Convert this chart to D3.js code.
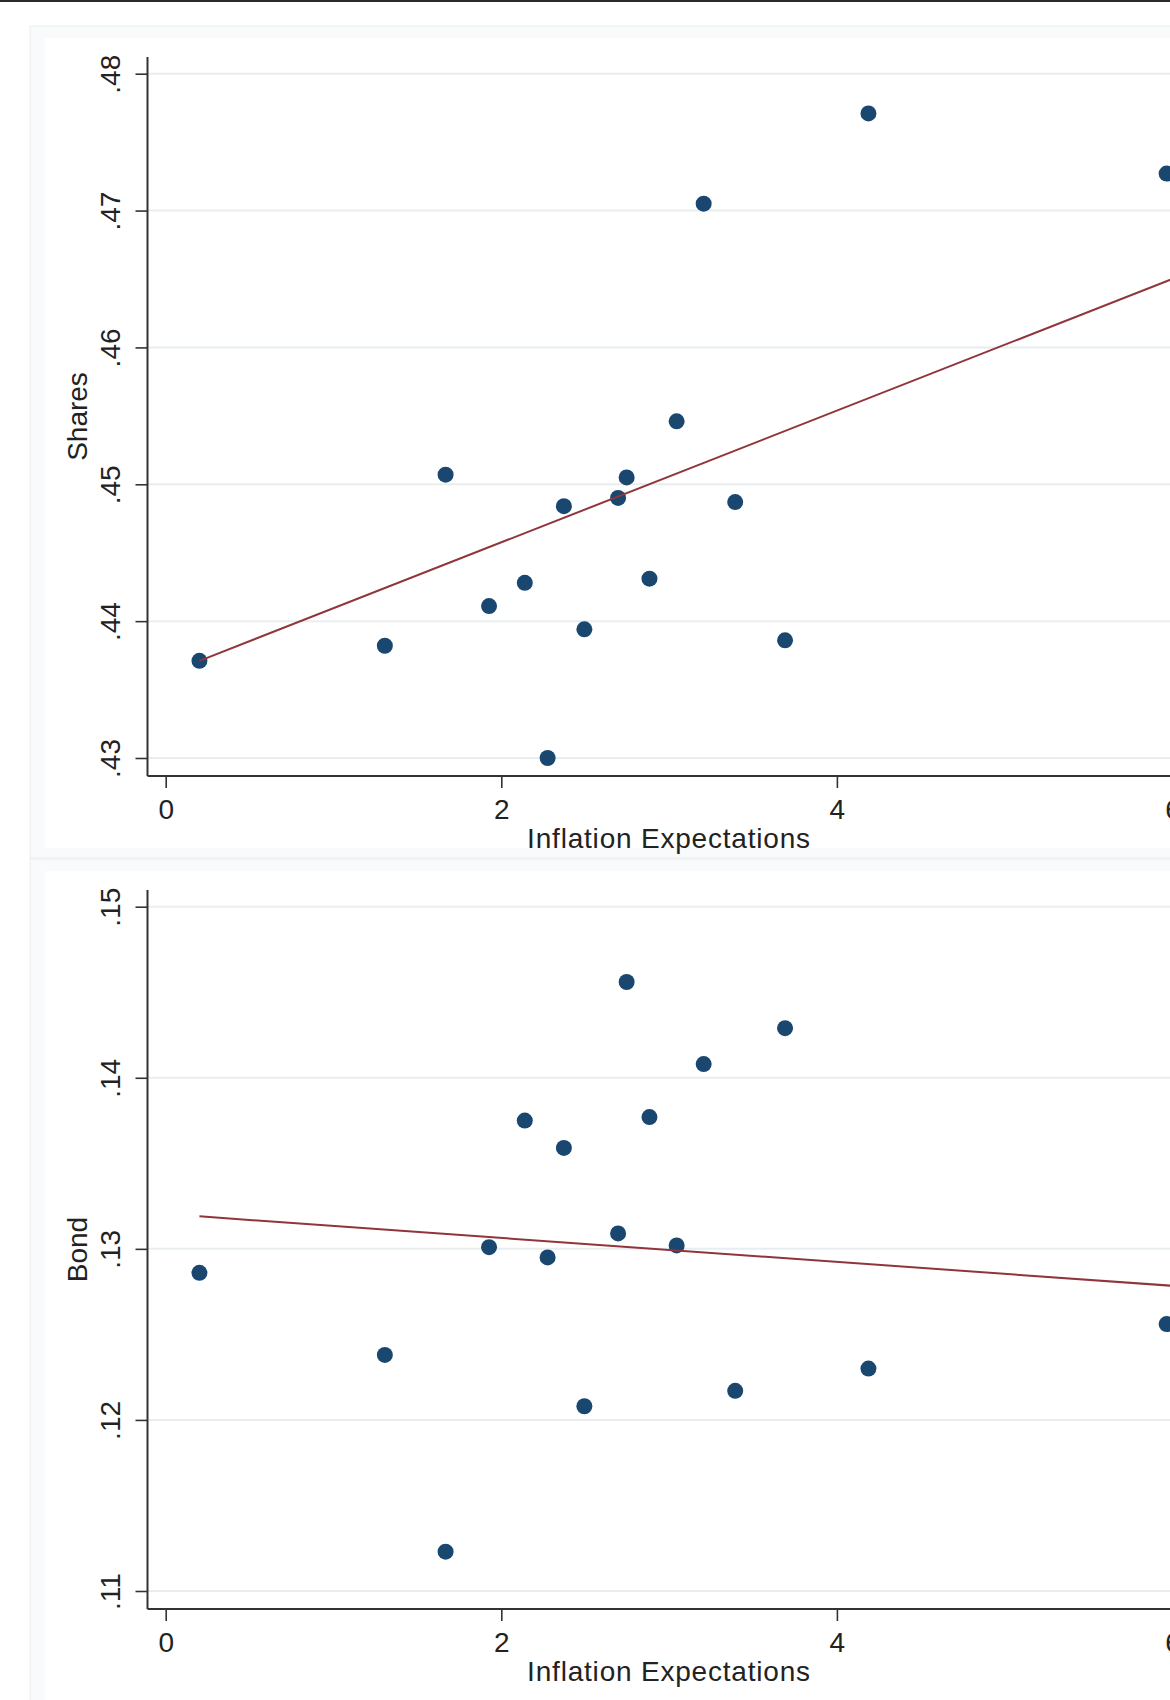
<!DOCTYPE html>
<meta charset="utf-8">
<html>

<head>
    <script src="https://d3js.org/d3.v7.min.js"></script>
    <style>
        body {
            margin: 0;
            background: #fff;
            overflow: hidden;
        }

        svg {
            display: block;
        }

        text {
            font-family: "Liberation Sans", Arial, sans-serif;
            fill: #222;
        }
    </style>
</head>

<body>
    <div id="my_dataviz"></div>

    <script>
        const inflation = [0.201, 1.306, 1.668, 1.927, 2.140, 2.276, 2.373, 2.495, 2.696,
            2.747, 2.883, 3.045, 3.206, 3.394, 3.691, 4.188, 5.965];
        const shares = [.4371, .4382, .4507, .4411, .4428, .4300, .4484, .4394, .4490,
            .4505, .4431, .4546, .4705, .4487, .4386, .4771, .4727];
        const bond = [.1286, .1238, .1123, .1301, .1375, .1295, .1359, .1208, .1309,
            .1456, .1377, .1302, .1408, .1217, .1429, .1230, .1256];

        // fitted lines: [intercept, slope]
        // (the fit runs past the cropped right edge, so it is not refit here)
        const sharesFit = [0.43613, 0.004813];
        const bondFit = [0.13204, -0.0007];
        const fitRange = [0.201, 6.2];

        const xTicks = [0, 2, 4, 6];
        const sharesTicks = [.43, .44, .45, .46, .47, .48];
        const bondTicks = [.11, .12, .13, .14, .15];

        const width = 1170, height = 1700;

        const svg = d3.select("#my_dataviz").append("svg")
            .attr("width", width)
            .attr("height", height);

        // thin dark rule along the top of the image
        svg.append("rect")
            .attr("x", 0).attr("y", 0)
            .attr("width", width).attr("height", 2)
            .attr("fill", "#2b2b2b");

        // plot area inside each panel (relative to panel top)
        const plot = { left: 147.5, top: 31, bottom: 750, tickTop: 47.7, tickBottom: 732 };

        // x scale shared by both panels; the 6 tick sits just past the right edge
        const x = d3.scaleLinear().domain([0, 6]).range([165.7, 1172.5]);

        // Stata style labels: .45 instead of 0.45
        const fmtY = d => d3.format(".2f")(d).replace(/^0/, "");

        function drawPanel(top, panelH, yValues, fit, ticks, label) {
            const g = svg.append("g").attr("transform", `translate(0,${top})`);

            // panel background + white plot region
            g.append("rect")
                .attr("x", 30).attr("y", 0)
                .attr("width", width).attr("height", panelH)
                .attr("fill", "#f9fafb")
                .attr("stroke", "#e9eef0");
            g.append("rect")
                .attr("x", 45).attr("y", 12)
                .attr("width", width).attr("height", panelH - 22)
                .attr("fill", "#fff");

            const y = d3.scaleLinear()
                .domain([ticks[0], ticks[ticks.length - 1]])
                .range([plot.tickBottom, plot.tickTop]);

            // horizontal gridlines
            g.append("g").selectAll("line").data(ticks).enter().append("line")
                .attr("x1", plot.left).attr("x2", width)
                .attr("y1", d => y(d)).attr("y2", d => y(d))
                .attr("stroke", "#e8eef0")
                .attr("stroke-width", 2);

            // y axis, labels rotated like Stata does
            const yAxis = g.append("g")
                .attr("transform", `translate(${plot.left},0)`)
                .call(d3.axisLeft(y).tickValues(ticks).tickSize(12).tickFormat(fmtY));
            yAxis.select(".domain").remove();
            yAxis.selectAll(".tick line").attr("stroke", "#333").attr("stroke-width", 1.6);
            yAxis.selectAll(".tick text")
                .attr("x", null).attr("dy", null)
                .attr("text-anchor", "middle")
                .attr("transform", "translate(-27.5,0) rotate(-90)")
                .style("font-size", "28px");

            // x axis
            const xAxis = g.append("g")
                .attr("transform", `translate(0,${plot.bottom})`)
                .call(d3.axisBottom(x).tickValues(xTicks).tickSize(12).tickPadding(11).tickFormat(d3.format("d")));
            xAxis.select(".domain").remove();
            xAxis.selectAll(".tick line").attr("stroke", "#333").attr("stroke-width", 1.6);
            xAxis.selectAll(".tick text").style("font-size", "28px");

            // axis lines
            g.append("line")
                .attr("x1", plot.left).attr("x2", plot.left)
                .attr("y1", plot.top).attr("y2", plot.bottom)
                .attr("stroke", "#333").attr("stroke-width", 2);
            g.append("line")
                .attr("x1", plot.left).attr("x2", width)
                .attr("y1", plot.bottom).attr("y2", plot.bottom)
                .attr("stroke", "#333").attr("stroke-width", 2);

            // dots
            const pts = inflation.map((d, i) => ({ x: d, y: yValues[i] }));
            g.append("g").selectAll("circle").data(pts).enter().append("circle")
                .attr("cx", d => x(d.x))
                .attr("cy", d => y(d.y))
                .attr("r", 8)
                .attr("fill", "#1a476f");

            // linear fit line
            const [x0, x1] = fitRange;
            g.append("line")
                .attr("x1", x(x0)).attr("y1", y(fit[0] + fit[1] * x0))
                .attr("x2", x(x1)).attr("y2", y(fit[0] + fit[1] * x1))
                .attr("stroke", "#90353b")
                .attr("stroke-width", 2);

            // axis titles
            g.append("text")
                .attr("x", 669).attr("y", 822)
                .attr("text-anchor", "middle")
                .style("font-size", "28px")
                .style("letter-spacing", "0.8px")
                .text("Inflation Expectations");

            g.append("text")
                .attr("transform", `translate(87,${(plot.top + plot.bottom) / 2}) rotate(-90)`)
                .attr("text-anchor", "middle")
                .style("font-size", "28px")
                .text(label);
        }

        drawPanel(26, 832, shares, sharesFit, sharesTicks, "Shares");
        drawPanel(859, 880, bond, bondFit, bondTicks, "Bond");
    </script>
</body>

</html>
